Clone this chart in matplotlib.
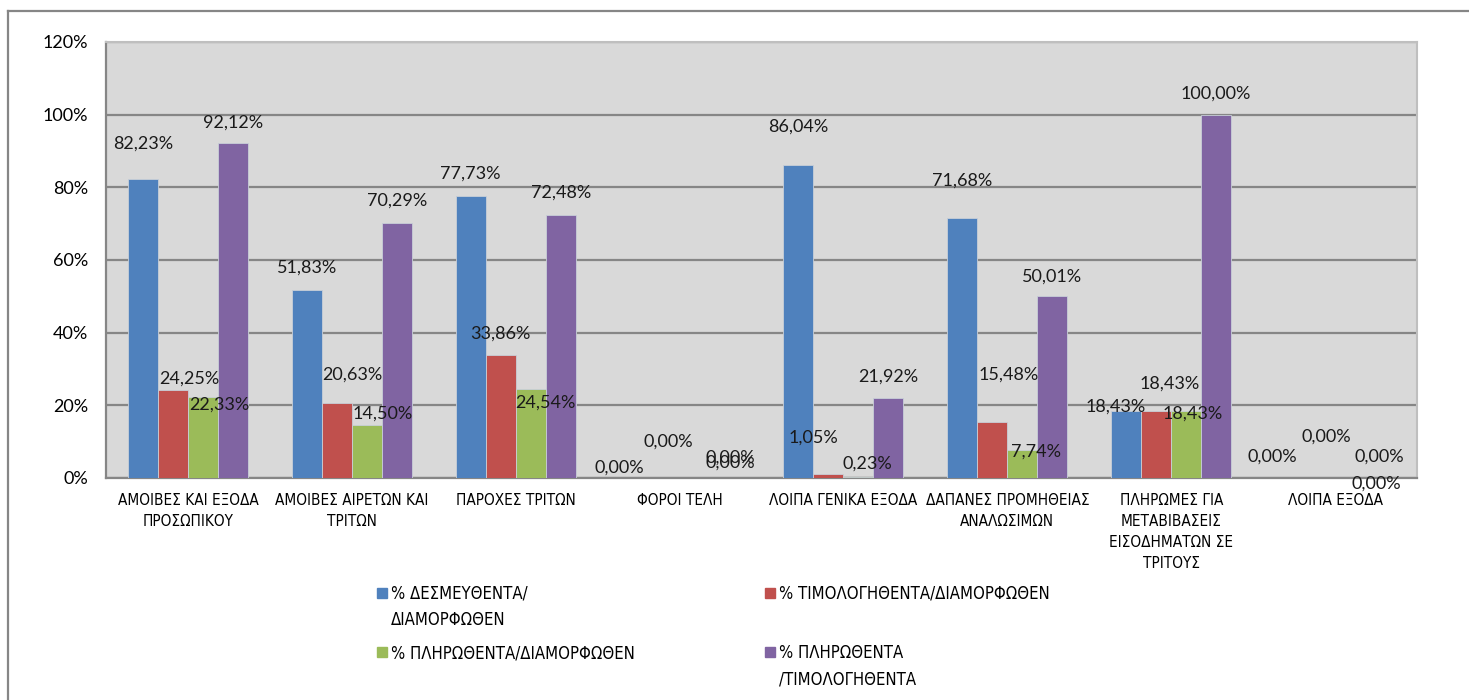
import numpy as np
import matplotlib.pyplot as plt
from matplotlib.lines import Line2D
from matplotlib.patches import Rectangle
from matplotlib import font_manager

# Data (percent values)
categories = [
    "ΑΜΟΙΒΕΣ ΚΑΙ ΕΞΟΔΑ\nΠΡΟΣΩΠΙΚΟΥ",
    "ΑΜΟΙΒΕΣ ΑΙΡΕΤΩΝ ΚΑΙ\nΤΡΙΤΩΝ",
    "ΠΑΡΟΧΕΣ ΤΡΙΤΩΝ",
    "ΦΟΡΟΙ ΤΕΛΗ",
    "ΛΟΙΠΑ ΓΕΝΙΚΑ ΕΞΟΔΑ",
    "ΔΑΠΑΝΕΣ ΠΡΟΜΗΘΕΙΑΣ\nΑΝΑΛΩΣΙΜΩΝ",
    "ΠΛΗΡΩΜΕΣ ΓΙΑ\nΜΕΤΑΒΙΒΑΣΕΙΣ\nΕΙΣΟΔΗΜΑΤΩΝ ΣΕ\nΤΡΙΤΟΥΣ",
    "ΛΟΙΠΑ ΕΞΟΔΑ",
]
series_names = [
    "% ΔΕΣΜΕΥΘΕΝΤΑ/\nΔΙΑΜΟΡΦΩΘΕΝ",
    "% ΤΙΜΟΛΟΓΗΘΕΝΤΑ/ΔΙΑΜΟΡΦΩΘΕΝ",
    "% ΠΛΗΡΩΘΕΝΤΑ/ΔΙΑΜΟΡΦΩΘΕΝ",
    "% ΠΛΗΡΩΘΕΝΤΑ\n/ΤΙΜΟΛΟΓΗΘΕΝΤΑ",
]
desmeythenta = [82.23, 51.83, 77.73, 0.00, 86.04, 71.68, 18.43, 0.00]
timologithenta = [24.25, 20.63, 33.86, 0.00, 1.05, 15.48, 18.43, 0.00]
plirothenta = [22.33, 14.50, 24.54, 0.00, 0.23, 7.74, 18.43, 0.00]
plir_timol = [92.12, 70.29, 72.48, 0.00, 21.92, 50.01, 100.00, 0.00]
y_ticks = [0, 20, 40, 60, 80, 100, 120]

series = [desmeythenta, timologithenta, plirothenta, plir_timol]
colors = ["#4F81BD", "#C0504D", "#9BBB59", "#8064A2"]

# label offsets (pixels, relative to bar top centre) - mimics the dragged Excel labels
label_offsets = [
    [(0, 36), (0, 22), (0, 22), (-15, 10), (0, 39), (0, 37), (-11, 4), (-18, 21)],
    [(16, 11), (16, 28), (0, 21), (4, 36), (-15, 37), (16, 47), (13, 27), (6, 41)],
    [(16, -8), (16, 12), (15, -14), (36, 15), (9, 14), (14, -2), (6, -3), (26, -6)],
    [(0, 21), (0, 22), (0, 22), (6, 20), (0, 22), (0, 20), (0, 21), (-1, 21)],
]

num_font = "Lato"
cat_font = font_manager.FontProperties(family="DejaVu Sans", stretch="condensed", size=11)
leg_font = font_manager.FontProperties(family="DejaVu Sans", stretch="condensed", size=12)

fig = plt.figure(figsize=(14.69, 7.0), dpi=100)
ax = fig.add_axes([106 / 1469, 1 - 478 / 700, (1417 - 106) / 1469, (478 - 42) / 700])

ax.set_facecolor("#D9D9D9")
x = np.arange(len(categories))
w = 0.183
px = 0.72  # pixels -> points

for i, vals in enumerate(series):
    pos = x + (i - 1.5) * w
    ax.bar(pos, vals, width=w, color=colors[i], edgecolor="#C8CFD8", linewidth=0.6, zorder=3)
    for j, v in enumerate(vals):
        dx, dy = label_offsets[i][j]
        ax.annotate(f"{v:.2f}".replace(".", ",") + "%", (pos[j], v),
                    xytext=(dx * px, dy * px), textcoords="offset points",
                    ha="center", va="center", fontsize=13, family=num_font,
                    color="#1A1A1A", zorder=5)

ax.set_ylim(0, 120)
ax.set_xlim(-0.5, len(categories) - 0.5)
ax.set_yticks(y_ticks)
ax.set_yticklabels([f"{t}%" for t in y_ticks], fontsize=13, family=num_font)
ax.yaxis.grid(True, color="#868686", linewidth=1.6, zorder=1)
ax.set_axisbelow(True)
ax.tick_params(axis="y", length=0, pad=13)
ax.set_xticks(x)
ax.set_xticklabels(categories, fontproperties=cat_font, linespacing=1.5)
ax.tick_params(axis="x", length=0, pad=11)

for side in ["top", "right"]:
    ax.spines[side].set_color("#BFBFBF")
    ax.spines[side].set_linewidth(1.5)
for side in ["left", "bottom"]:
    ax.spines[side].set_color("#868686")
    ax.spines[side].set_linewidth(1.6)

# legend, laid out like the Excel one (2 columns, wrapped labels)
leg_pos = [(377, 593), (765, 593), (377, 652), (765, 652)]
for (lx, ly), name, c in zip(leg_pos, series_names, colors):
    fig.patches.append(Rectangle((lx / 1469, 1 - (ly + 5) / 700), 10 / 1469, 10 / 700,
                                 transform=fig.transFigure, color=c))
    fig.text((lx + 14) / 1469, 1 - (ly - 8) / 700, name, ha="left", va="top",
             fontproperties=leg_font, linespacing=1.6)

# chart frame (only top and left edges are visible in the crop)
fig.add_artist(Line2D([8 / 1469, 1], [1 - 11 / 700, 1 - 11 / 700], transform=fig.transFigure,
                      color="#868686", linewidth=1.6))
fig.add_artist(Line2D([8 / 1469, 8 / 1469], [0, 1 - 11 / 700], transform=fig.transFigure,
                      color="#868686", linewidth=1.6))

fig.savefig("out.png", dpi=100)
